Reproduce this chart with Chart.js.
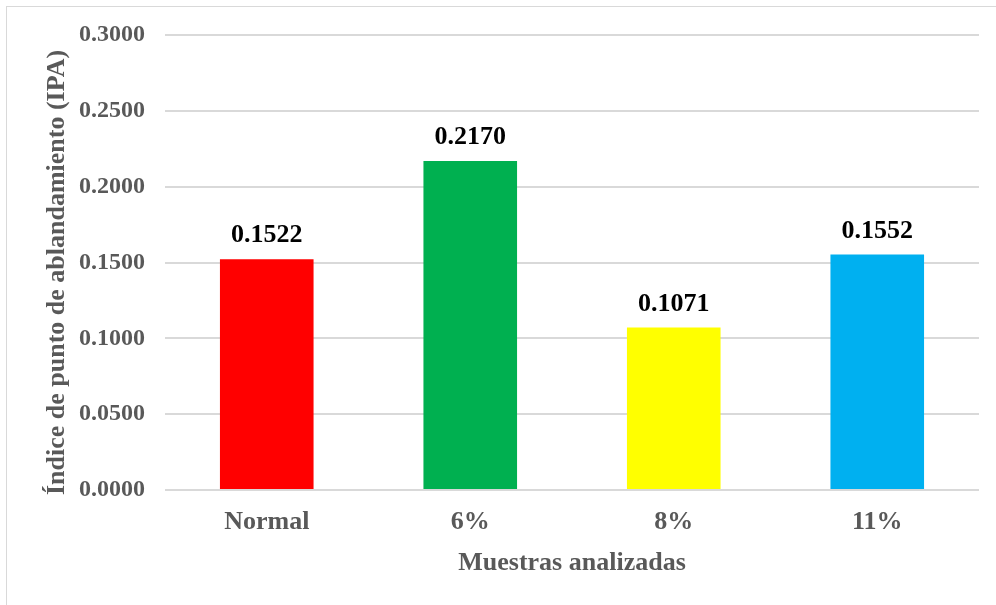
<!DOCTYPE html>
<html lang="es">
<head>
<meta charset="utf-8">
<title>Índice de punto de ablandamiento (IPA)</title>
<script src="https://cdn.jsdelivr.net/npm/chart.js@4.4.0/dist/chart.umd.min.js"></script>
<style>
    html, body { margin: 0; padding: 0; background: #fff; overflow: hidden; }
    #wrap { position: relative; width: 996px; height: 605px; }
    #frame { position: absolute; left: 6px; top: 6px; width: 1100px; height: 700px;
             border: 1px solid #d9d9d9; box-sizing: border-box; }
    #chart { position: absolute; left: 0; top: 0; }
</style>
</head>
<body>
<div id="wrap">
    <div id="frame"></div>
    <canvas id="chart" width="996" height="605"></canvas>
</div>
<script>
'use strict';

// ── Datos ─────────────────────────────────────────────────
const categorias = ['Normal', '6%', '8%', '11%'];
const valoresIPA = [0.1522, 0.2170, 0.1071, 0.1552];
const coloresBarras = ['#ff0000', '#00b050', '#ffff00', '#00b0f0'];
const ejeY = { min: 0, max: 0.3, paso: 0.05 };
const tituloY = 'Índice de punto de ablandamiento (IPA)';

const fuente = "'Liberation Serif', 'Times New Roman', serif";
const gris = '#595959';

// ── Etiquetas de valor y título vertical ─────────────────
const etiquetasValor = {
    id: 'etiquetasValor',
    afterDatasetsDraw(chart) {
        const { ctx, chartArea } = chart;
        const meta = chart.getDatasetMeta(0);
        ctx.save();
        ctx.font = `bold 26px ${fuente}`;
        ctx.fillStyle = '#000';
        ctx.textAlign = 'center';
        ctx.textBaseline = 'alphabetic';
        meta.data.forEach((bar, i) => {
            ctx.fillText(valoresIPA[i].toFixed(4), bar.x, bar.y - 17);
        });

        // título del eje Y, un poco más abajo que el centrado de Chart.js
        ctx.fillStyle = gris;
        ctx.textBaseline = 'middle';
        ctx.translate(57, (chartArea.top + chartArea.bottom) / 2 + 10);
        ctx.rotate(-Math.PI / 2);
        ctx.fillText(tituloY, 0, 0);
        ctx.restore();
    }
};

new Chart(document.getElementById('chart'), {
    type: 'bar',
    data: {
        labels: categorias,
        datasets: [{
            data: valoresIPA,
            backgroundColor: coloresBarras,
            borderWidth: 0,
            categoryPercentage: 1,
            barPercentage: 0.46,
        }]
    },
    options: {
        responsive: false,
        animation: false,
        layout: { padding: { left: 0, right: 17, top: 35, bottom: 0 } },
        plugins: {
            legend: { display: false },
            tooltip: { enabled: false }
        },
        scales: {
            x: {
                grid: { display: false, drawTicks: false },
                border: { display: false },
                ticks: {
                    color: gris,
                    padding: 17,
                    font: { family: fuente, size: 26, weight: 'bold' }
                },
                title: {
                    display: true,
                    text: 'Muestras analizadas',
                    color: gris,
                    padding: { top: 0, bottom: 26 },
                    font: { family: fuente, size: 26, weight: 'bold' }
                },
                afterFit(scale) { scale.height = 115; }
            },
            y: {
                min: ejeY.min,
                max: ejeY.max,
                grid: { color: '#d9d9d9', lineWidth: 2, drawTicks: false },
                border: { display: false },
                ticks: {
                    stepSize: ejeY.paso,
                    color: gris,
                    padding: 20,
                    font: { family: fuente, size: 24, weight: 'bold' },
                    callback: v => Number(v).toFixed(4)
                },
                afterFit(scale) { scale.width = 165; }
            }
        }
    },
    plugins: [etiquetasValor]
});
</script>
</body>
</html>
